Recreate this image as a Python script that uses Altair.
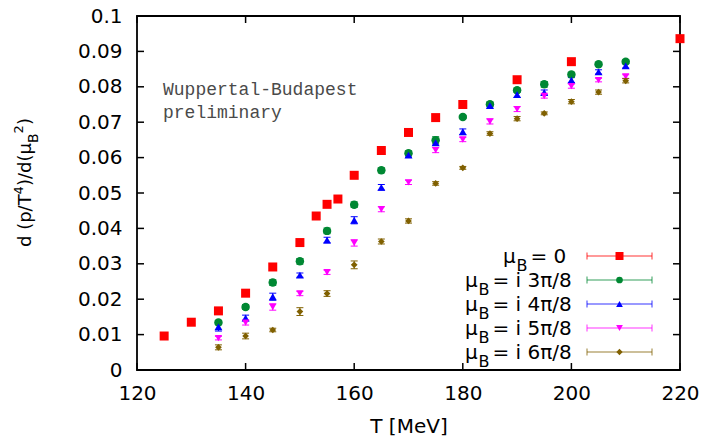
import altair as alt
import pandas as pd

# ---------------- data ----------------
series_names = ["mu0", "mu3", "mu4", "mu5", "mu6"]
series_colors = ["#ff0000", "#008833", "#0000ff", "#ff00ff", "#806000"]
series_shapes = ["square", "circle", "triangle-up", "triangle-down", "diamond"]
series_sizes = [81, 45, 45, 45, 40]

T_red = [125, 130, 135, 140, 145, 150, 153, 155, 157, 160, 165, 170, 175, 180, 190, 200, 220]
v_red = [0.0096, 0.0135, 0.0167, 0.0217, 0.0291, 0.0360, 0.0435, 0.0468, 0.0483, 0.0550,
         0.0620, 0.0671, 0.0713, 0.0750, 0.0820, 0.0871, 0.0936]
e_red = [0.0002] * 17

T_other = [135, 140, 145, 150, 155, 160, 165, 170, 175, 180, 185, 190, 195, 200, 205, 210]
v_green = [0.0134, 0.0178, 0.0247, 0.0307, 0.0393, 0.0467, 0.0564, 0.0612, 0.0649, 0.0715,
           0.0751, 0.0790, 0.0807, 0.0835, 0.0864, 0.0871]
e_green = [0.0006, 0.0007, 0.0008, 0.0008, 0.0008, 0.0008, 0.0007, 0.0007, 0.0010, 0.0004,
           0.0006, 0.0006, 0.0008, 0.0006, 0.0005, 0.0005]
v_blue = [0.0122, 0.0147, 0.0207, 0.0268, 0.0367, 0.0423, 0.0516, 0.0607, 0.0642, 0.0673,
          0.0747, 0.0778, 0.0784, 0.0819, 0.0842, 0.0859]
e_blue = [0.0012, 0.0008, 0.0010, 0.0006, 0.0008, 0.0010, 0.0008, 0.0006, 0.0007, 0.0008,
          0.0007, 0.0008, 0.0007, 0.0007, 0.0006, 0.0006]
v_mag = [0.0090, 0.0134, 0.0178, 0.0216, 0.0276, 0.0359, 0.0454, 0.0530, 0.0621, 0.0651,
         0.0702, 0.0737, 0.0774, 0.0802, 0.0819, 0.0829]
e_mag = [0.0005, 0.0007, 0.0009, 0.0006, 0.0006, 0.0009, 0.0007, 0.0006, 0.0007, 0.0006,
         0.0007, 0.0007, 0.0006, 0.0006, 0.0005, 0.0005]
v_brown = [0.0064, 0.0096, 0.0113, 0.0165, 0.0216, 0.0297, 0.0363, 0.0421, 0.0527, 0.0571,
           0.0668, 0.0710, 0.0725, 0.0758, 0.0785, 0.0817]
e_brown = [0.0007, 0.0008, 0.0005, 0.0011, 0.0008, 0.0011, 0.0007, 0.0006, 0.0005, 0.0004,
           0.0005, 0.0006, 0.0004, 0.0006, 0.0006, 0.0006]

legend_rest = ["=  0", "= i 3π/8", "= i 4π/8", "= i 5π/8", "= i 6π/8"]

x_ticks = [120, 140, 160, 180, 200, 220]
y_ticks = [0, 0.01, 0.02, 0.03, 0.04, 0.05, 0.06, 0.07, 0.08, 0.09, 0.1]

# ---------------- build tables ----------------
rows = []
for name, Ts, vs, es in [
    ("mu0", T_red, v_red, e_red),
    ("mu3", T_other, v_green, e_green),
    ("mu4", T_other, v_blue, e_blue),
    ("mu5", T_other, v_mag, e_mag),
    ("mu6", T_other, v_brown, e_brown),
]:
    for t, v, e in zip(Ts, vs, es):
        rows.append({"series": name, "T": t, "v": v, "lo": v - e, "hi": v + e})
df = pd.DataFrame(rows)

W, H = 543, 354
FONT = "DejaVu Sans"

xs = alt.Scale(domain=[120, 220], nice=False, zero=False)
ys = alt.Scale(domain=[0, 0.1], nice=False, zero=True)
cscale = alt.Scale(domain=series_names, range=series_colors)
sscale = alt.Scale(domain=series_names, range=series_shapes)
zscale = alt.Scale(domain=series_names, range=series_sizes)

x_axis = alt.Axis(values=x_ticks, tickSize=0, domain=False, grid=False,
                  labelFont=FONT, labelFontSize=20, labelColor="black",
                  labelPadding=13, labelFlush=False, labelOverlap=False,
                  title="T [MeV]", titleFont=FONT, titleFontSize=20,
                  titleFontWeight="normal", titleColor="black", titlePadding=13)
y_axis = alt.Axis(values=y_ticks, format=".2~f", tickSize=0, domain=False, grid=False,
                  labelFont=FONT, labelFontSize=20, labelColor="black",
                  labelPadding=15, labelFlush=False, labelOverlap=False, title=None)


def X(field):
    return alt.X(field, type="quantitative", scale=xs, axis=x_axis)


def Y(field):
    return alt.Y(field, type="quantitative", scale=ys, axis=y_axis)


color_enc = alt.Color("series:N", scale=cscale, legend=None)

base = alt.Chart(df)

err = base.mark_rule(strokeWidth=1).encode(
    x=X("T"), y=Y("lo"), y2="hi:Q", color=color_enc)
cap_lo = base.mark_point(shape="M-1,0L1,0", filled=False, strokeWidth=1, size=49, opacity=1).encode(
    x=X("T"), y=Y("lo"), color=color_enc)
cap_hi = base.mark_point(shape="M-1,0L1,0", filled=False, strokeWidth=1, size=49, opacity=1).encode(
    x=X("T"), y=Y("hi"), color=color_enc)
pts = base.mark_point(filled=True, opacity=1).encode(
    x=X("T"), y=Y("v"),
    color=color_enc,
    shape=alt.Shape("series:N", scale=sscale, legend=None),
    size=alt.Size("series:N", scale=zscale, legend=None),
)

# inner tick marks (gnuplot style, on all four sides)
xt = pd.DataFrame({"t": x_ticks})
yt = pd.DataFrame({"t": y_ticks})
tick_x_bot = alt.Chart(xt).mark_rule(color="black", strokeWidth=1.5).encode(
    x=X("t"), y=alt.value(H), y2=alt.value(H - 7))
tick_x_top = alt.Chart(xt).mark_rule(color="black", strokeWidth=1.5).encode(
    x=X("t"), y=alt.value(0), y2=alt.value(7))
tick_y_left = alt.Chart(yt).mark_rule(color="black", strokeWidth=1.5).encode(
    y=Y("t"), x=alt.value(0), x2=alt.value(7))
tick_y_right = alt.Chart(yt).mark_rule(color="black", strokeWidth=1.5).encode(
    y=Y("t"), x=alt.value(W), x2=alt.value(W - 7))

# annotation
ann1 = alt.Chart(pd.DataFrame({"a": [0]})).mark_text(
    text="Wuppertal-Budapest", font="Liberation Mono", fontSize=18, color="#4a4a4a",
    align="left", baseline="alphabetic").encode(x=alt.value(26), y=alt.value(79))
ann2 = alt.Chart(pd.DataFrame({"a": [0]})).mark_text(
    text="preliminary", font="Liberation Mono", fontSize=18, color="#4a4a4a",
    align="left", baseline="alphabetic").encode(x=alt.value(26), y=alt.value(102))

# legend
leg_layers = []
row_y = [240, 264, 288, 312, 336]
row_x0 = [366, 328, 328, 328, 328]
for i, name in enumerate(series_names):
    yy = row_y[i]
    x0 = row_x0[i]
    one = alt.Chart(pd.DataFrame({"a": [0]}))
    leg_layers.append(one.mark_text(text="μ", font=FONT, fontSize=20, color="black",
                                    align="left", baseline="alphabetic").encode(
        x=alt.value(x0), y=alt.value(yy + 7)))
    leg_layers.append(one.mark_text(text="B", font=FONT, fontSize=16, color="black",
                                    align="left", baseline="alphabetic").encode(
        x=alt.value(x0 + 13.5), y=alt.value(yy + 15)))
    leg_layers.append(one.mark_text(text=legend_rest[i], font=FONT, fontSize=20, color="black",
                                    align="left", baseline="alphabetic").encode(
        x=alt.value(x0 + 27.5), y=alt.value(yy + 7)))
    col = series_colors[i]
    leg_layers.append(one.mark_rule(color=col, strokeWidth=1, opacity=0.8).encode(
        x=alt.value(450), x2=alt.value(515), y=alt.value(yy)))
    leg_layers.append(one.mark_rule(color=col, strokeWidth=1, opacity=0.8).encode(
        x=alt.value(450), y=alt.value(yy - 3.5), y2=alt.value(yy + 3.5)))
    leg_layers.append(one.mark_rule(color=col, strokeWidth=1, opacity=0.8).encode(
        x=alt.value(515), y=alt.value(yy - 3.5), y2=alt.value(yy + 3.5)))
    leg_layers.append(one.mark_point(filled=True, opacity=1, color=col,
                                     shape=series_shapes[i],
                                     size=series_sizes[i] if i else 64).encode(
        x=alt.value(482.5), y=alt.value(yy)))

# rotated y-axis title: d (p/T^4)/d(μ_B^2)
yt_layers = []
one = alt.Chart(pd.DataFrame({"a": [0]}))
title_parts = [
    ("d (p/T", 18, -106, 231),
    ("4", 13, -114, 178.5),
    (")/d(μ", 18, -106, 170),
    ("B", 14, -99, 127),
    ("2", 13, -114, 117.5),
    (")", 18, -106, 109),
]
for txt, fs, xx, yy in title_parts:
    yt_layers.append(one.mark_text(text=txt, font=FONT, fontSize=fs, color="black",
                                   angle=270, align="left", baseline="alphabetic").encode(
        x=alt.value(xx), y=alt.value(yy)))

chart = alt.layer(
    err, cap_lo, cap_hi, pts,
    tick_x_bot, tick_x_top, tick_y_left, tick_y_right,
    ann1, ann2, *leg_layers, *yt_layers
).properties(
    width=W, height=H,
    padding={"left": 137, "top": 16, "right": 24, "bottom": 72},
    autosize=alt.AutoSizeParams(type="none"),
    background="white",
).configure_view(stroke="black", strokeWidth=1.8)

chart.save("out.html", embed_options={"renderer": "svg", "actions": False})
